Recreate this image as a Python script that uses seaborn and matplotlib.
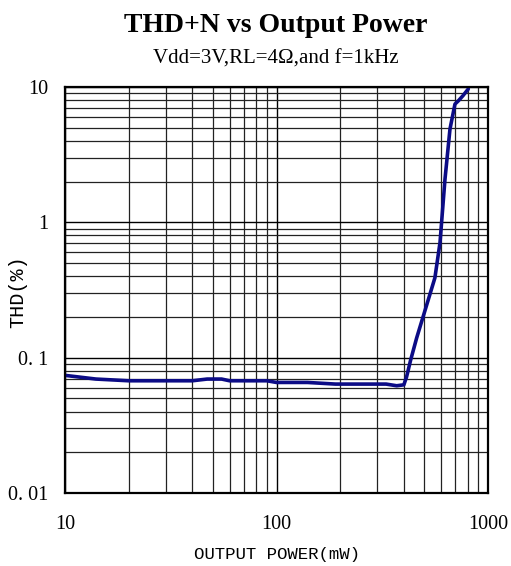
import numpy as np
import pandas as pd
import matplotlib
matplotlib.use("Agg")
import matplotlib.pyplot as plt
import matplotlib.ticker as mticker
import seaborn as sns

# Data
power_mw = [10, 14, 20, 30, 40, 47, 55, 60, 75, 90, 100, 140, 190, 250, 330, 370, 400, 412, 430, 460,
            494, 530, 561, 593, 626, 661, 698, 724, 760, 807]
thd_pct = [0.074, 0.0695, 0.0675, 0.0675, 0.0675, 0.0695, 0.0695, 0.0675, 0.0675, 0.0675, 0.0656,
           0.0656, 0.0638, 0.0638, 0.0638, 0.062, 0.063, 0.072, 0.095, 0.14,
           0.202, 0.29, 0.389, 0.708, 2.08, 4.89, 7.48, 7.9, 8.6, 9.67]

x_ticks = [10, 100, 1000]
x_tick_labels = ["10", "100", "1000"]
y_ticks = [0.01, 0.1, 1, 10]
y_tick_labels = ["0. 01", "0. 1", "1", "10"]

title = "THD+N vs Output Power"
subtitle = "Vdd=3V,RL=4\u03a9,and f=1kHz"
x_label = "OUTPUT POWER(mW)"
y_label = "THD(%)"

df = pd.DataFrame({"power": power_mw, "thd": thd_pct})

sns.set_style("white")
plt.rcParams['font.family'] = ['Liberation Serif', 'DejaVu Sans']
plt.rcParams.update({"text.color": "black", "axes.labelcolor": "black",
                     "xtick.color": "black", "ytick.color": "black"})

fig = plt.figure(figsize=(5.11, 5.66), dpi=100)
ax = fig.add_axes([65 / 511, 1 - 493 / 566, (488 - 65) / 511, (493 - 87) / 566])

ax.set_xscale("log")
ax.set_yscale("log")
ax.set_xlim(10, 1000)
ax.set_ylim(0.01, 10)

ax.grid(True, which="major", color="black", linewidth=1.0)
ax.grid(True, which="minor", color="#222222", linewidth=0.9)
ax.xaxis.set_minor_locator(mticker.LogLocator(base=10, subs=np.arange(2, 10)))
ax.yaxis.set_minor_locator(mticker.LogLocator(base=10, subs=np.arange(2, 10)))
ax.set_axisbelow(True)

sns.lineplot(data=df, x="power", y="thd", ax=ax, color="#0b0b86", linewidth=2.6, estimator=None, sort=False)

ax.set_xticks(x_ticks)
ax.set_xticklabels(x_tick_labels, fontsize=14.5, family="Liberation Serif")
ax.set_yticks(y_ticks)
ax.set_yticklabels(y_tick_labels, fontsize=14.5, family="Liberation Serif")
ax.xaxis.set_minor_formatter(mticker.NullFormatter())
ax.yaxis.set_minor_formatter(mticker.NullFormatter())
ax.tick_params(axis="x", which="both", length=0, pad=16, colors="black")
ax.tick_params(axis="y", which="both", length=0, pad=12, colors="black")

for s in ax.spines.values():
    s.set_color("black")
    s.set_linewidth(1.6)

ax.set_xlabel(x_label, fontsize=12.5, family="Liberation Mono", color="black")
ax.set_ylabel(y_label, fontsize=14.5, family="Liberation Mono", color="black")
ax.yaxis.set_label_coords((18 - 65) / 423, (493 - 292) / 406)
ax.xaxis.set_label_coords(0.5, (493 - 555) / 406)
ax.xaxis.label.set_va("center")
ax.yaxis.label.set_va("center")

fig.text(276 / 511, 1 - 32.3 / 566, title, ha="center", va="baseline", fontsize=20, fontweight="bold",
         family="Liberation Serif", color="black")
fig.text(276 / 511, 1 - 63.3 / 566, subtitle, ha="center", va="baseline", fontsize=15,
         family="Liberation Serif", color="black")

fig.savefig("out.png", dpi=100)
